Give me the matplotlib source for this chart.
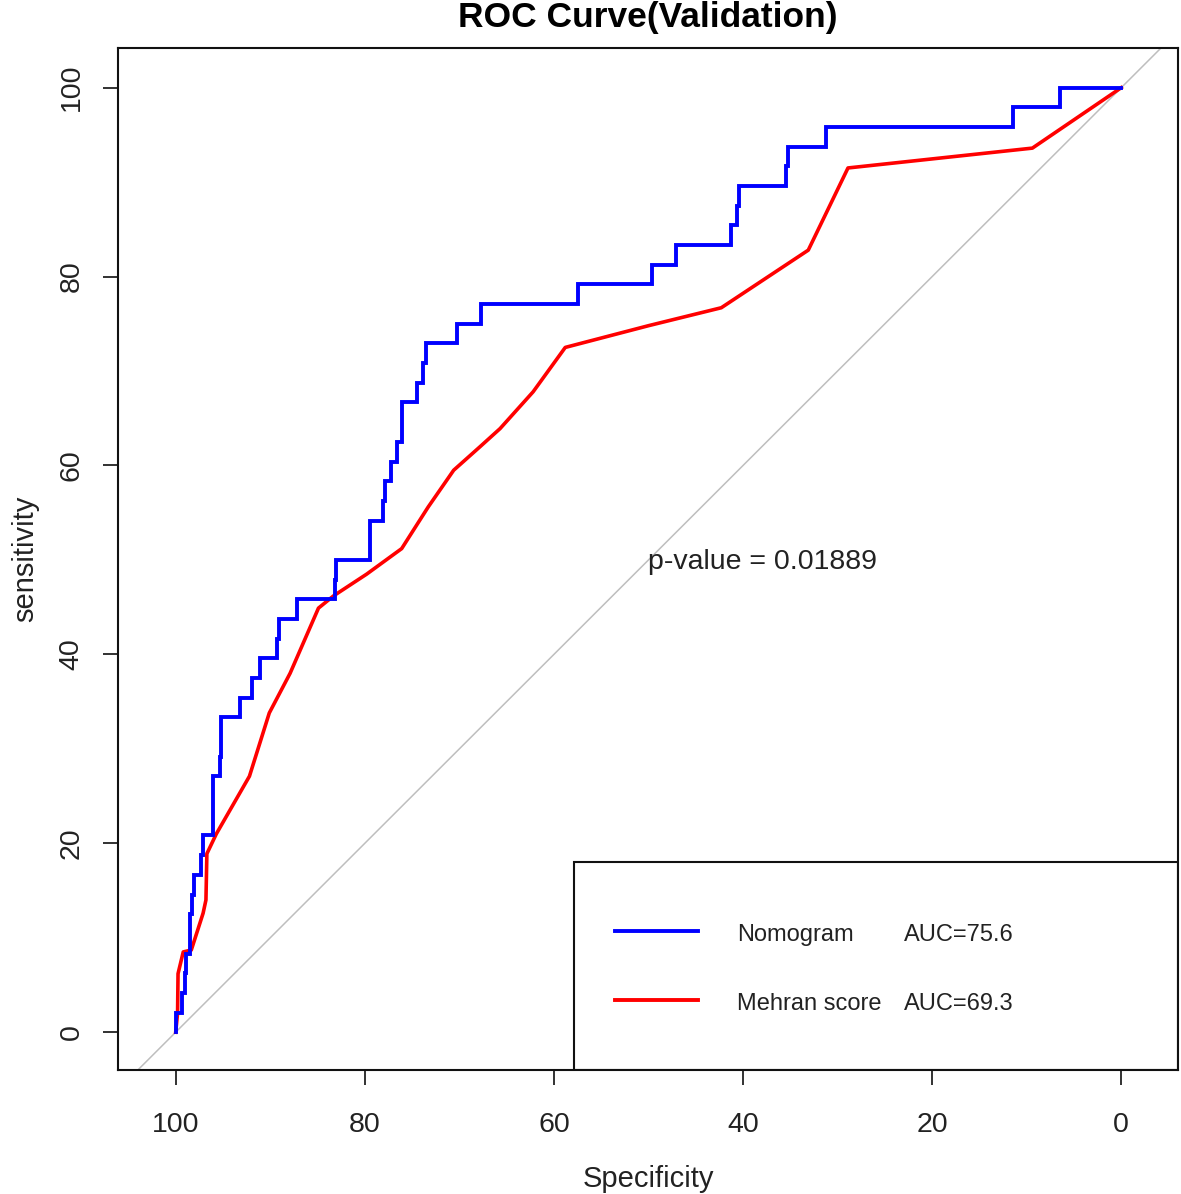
import matplotlib
matplotlib.use("Agg")
import matplotlib.pyplot as plt
from matplotlib.patches import Rectangle
from matplotlib.lines import Line2D

plt.rcParams["font.family"] = ["Liberation Sans", "DejaVu Sans"]

# Nomogram ROC: corners of the step curve (specificity %, sensitivity %)
NOMO_SPEC = [100, 100, 99.3, 99.05, 98.87, 98.44, 98.24, 98.1, 97.3, 97.1,
             96.05, 95.3, 95.2, 93.2, 91.9, 91.1, 89.3, 89.1, 87.2, 83.2,
             83.0, 79.5, 78.1, 77.9, 77.2, 76.6, 76.1, 74.5, 73.8, 73.5,
             70.3, 67.7, 57.5, 49.6, 47.1, 41.3, 40.6, 40.4, 35.5, 35.2,
             31.2, 11.4, 6.5, 0]
NOMO_SENS = [0, 2.08, 4.17, 6.25, 8.33, 12.50, 14.58, 16.67, 18.75, 20.83,
             27.08, 29.17, 33.33, 35.42, 37.50, 39.58, 41.67, 43.75, 45.83, 47.92,
             50.00, 54.17, 56.25, 58.33, 60.42, 62.50, 66.67, 68.75, 70.83, 72.92,
             75.00, 77.08, 79.17, 81.25, 83.33, 85.42, 87.50, 89.58, 91.67, 93.75,
             95.83, 97.92, 100, 100]

# Mehran score ROC (polyline)
MEHRAN_SPEC = [100, 99.8, 99.75, 99.2, 98.35, 97.1, 96.8, 96.7, 95.7, 92.2,
               90.1, 87.9, 84.9, 83.3, 79.8, 76.1, 73.3, 70.6, 67.8, 65.7,
               62.2, 58.8, 50.0, 42.3, 33.1, 28.9, 9.4, 0]
MEHRAN_SENS = [0, 2.0, 6.2, 8.5, 8.7, 12.6, 14.0, 18.9, 21.0, 27.1,
               33.8, 38.0, 44.9, 46.2, 48.5, 51.2, 55.6, 59.5, 62.0, 63.9,
               67.8, 72.5, 74.8, 76.7, 82.8, 91.5, 93.6, 100]

LABELS = ["Nomogram", "Mehran score"]
AUCS = ["AUC=75.6", "AUC=69.3"]
COLORS = ["#0000FF", "#FF0000"]
XTICKS = [100, 80, 60, 40, 20, 0]
YTICKS = [0, 20, 40, 60, 80, 100]
PVAL = "p-value = 0.01889"

fig = plt.figure(figsize=(11.81, 11.94), dpi=100)
ax = fig.add_axes([118 / 1181, 1 - 1070 / 1194, 1060 / 1181, 1022 / 1194])

ax.axline((100, 0), (0, 100), color="#BEBEBE", lw=1.1, zorder=1)
ax.plot(NOMO_SPEC, NOMO_SENS, drawstyle="steps-post", color=COLORS[0], lw=2.8,
        solid_joinstyle="miter", zorder=3)
ax.plot(MEHRAN_SPEC, MEHRAN_SENS, color=COLORS[1], lw=2.6, zorder=2)

ax.set_xlim(106.1, -6.0)
ax.set_ylim(-4.0, 104.2)
ax.set_xticks(XTICKS)
ax.set_yticks(YTICKS)
ax.set_xticklabels([str(v) for v in XTICKS], fontsize=20.5, color="#222222")
ax.set_yticklabels([str(v) for v in YTICKS], fontsize=20.5, color="#222222",
                   rotation=90, va="center")
ax.tick_params(axis="both", length=11, width=1.3, color="#222222")
ax.tick_params(axis="x", pad=19)
ax.tick_params(axis="y", pad=13)
for s in ax.spines.values():
    s.set_linewidth(1.5)
    s.set_color("#111111")

ax.set_xlabel("Specificity", fontsize=21, color="#222222", labelpad=20)
ax.set_ylabel("sensitivity", fontsize=21, color="#222222", labelpad=14)
ax.set_title("ROC Curve(Validation)", fontsize=25.5, fontweight="bold", pad=15)

ax.text(50.05, 49.8, PVAL, fontsize=20.5, ha="left", va="center", color="#222222")

# legend box (R style, drawn in axes fraction)
ax.add_patch(Rectangle((0.430, 0.0), 0.570, 0.2035, transform=ax.transAxes,
                       fill=False, ec="#111111", lw=1.5, zorder=5))
for i, (lab, auc, col) in enumerate(zip(LABELS, AUCS, COLORS)):
    yy = [0.136, 0.0685][i]
    ax.add_line(Line2D([0.469, 0.547], [yy, yy], transform=ax.transAxes,
                       color=col, lw=2.8, zorder=6))
    ax.text(0.584, yy - 0.004, lab, transform=ax.transAxes, fontsize=17,
            ha="left", va="center", color="#222222")
    ax.text(0.7415, yy - 0.004, auc, transform=ax.transAxes, fontsize=17,
            ha="left", va="center", color="#222222")

fig.savefig("out.png", dpi=100)
